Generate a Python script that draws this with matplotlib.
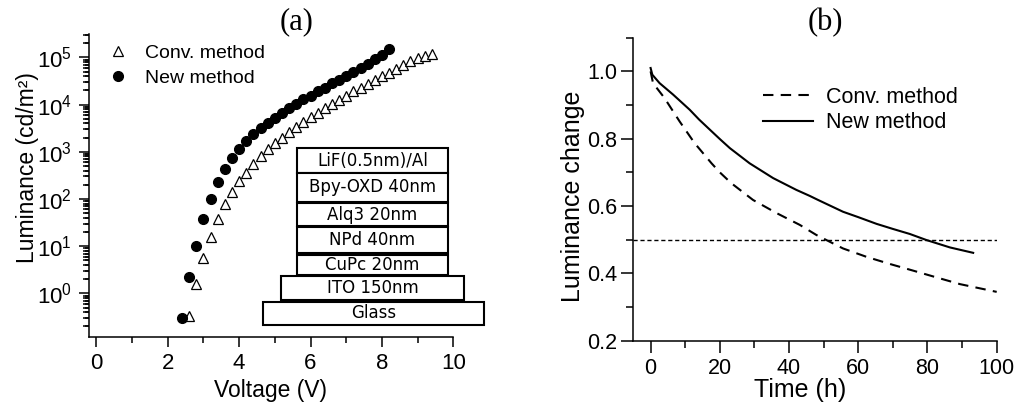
import numpy as np
import matplotlib
matplotlib.use("Agg")
import matplotlib.pyplot as plt
from matplotlib.patches import Rectangle
from matplotlib.ticker import (LogLocator, FixedLocator, MultipleLocator, NullFormatter,
                               FormatStrFormatter)

plt.rcParams['font.family'] = ['Liberation Sans', 'DejaVu Sans']
plt.rcParams['mathtext.fontset'] = 'custom'
plt.rcParams['mathtext.rm'] = 'Liberation Sans'

# ---------------- data ----------------
# (a) Luminance vs Voltage (log10 of luminance)
new_voltage = [2.4, 2.6, 2.8, 3.0, 3.2, 3.4, 3.6, 3.8, 4.0, 4.2, 4.4, 4.6, 4.8, 5.0, 5.2,
               5.4, 5.6, 5.8, 6.0, 6.2, 6.4, 6.6, 6.8, 7.0, 7.2, 7.4, 7.6, 7.8, 8.0, 8.2]
new_log_lum = [-0.53, 0.34, 1.01, 1.58, 2.01, 2.36, 2.63, 2.87, 3.07, 3.23, 3.37, 3.50, 3.62,
               3.72, 3.82, 3.92, 4.02, 4.11, 4.19, 4.28, 4.36, 4.45, 4.53, 4.61, 4.69, 4.77,
               4.87, 4.96, 5.06, 5.17]
conv_voltage = [2.6, 2.8, 3.0, 3.2, 3.4, 3.6, 3.8, 4.0, 4.2, 4.4, 4.6, 4.8, 5.0, 5.2, 5.4,
                5.6, 5.8, 6.0, 6.2, 6.4, 6.6, 6.8, 7.0, 7.2, 7.4, 7.6, 7.8, 8.0, 8.2, 8.4,
                8.6, 8.8, 9.0, 9.2, 9.4]
conv_log_lum = [-0.48, 0.20, 0.76, 1.20, 1.57, 1.89, 2.15, 2.39, 2.56, 2.75, 2.91, 3.05, 3.18,
                3.30, 3.42, 3.53, 3.63, 3.73, 3.83, 3.92, 4.01, 4.10, 4.19, 4.28, 4.36, 4.44,
                4.52, 4.60, 4.68, 4.76, 4.84, 4.92, 4.98, 5.03, 5.08]
new_lum = [10 ** v for v in new_log_lum]
conv_lum = [10 ** v for v in conv_log_lum]

# (b) Luminance change vs time
new_time = [0, 0.5, 2.6, 6.5, 11.3, 14.0, 17.1, 20.0, 22.9, 28.6, 35.4, 42.1, 46.0, 48.4,
            55.6, 60.0, 65.3, 70.0, 74.9, 79.7, 86.5, 93.2]
new_change = [1.01, 0.99, 0.965, 0.931, 0.886, 0.857, 0.827, 0.799, 0.772, 0.727, 0.683,
              0.648, 0.630, 0.618, 0.583, 0.567, 0.547, 0.532, 0.517, 0.499, 0.477, 0.461]
conv_time = [0, 0.7, 4.0, 8.4, 12.7, 17.6, 20.0, 23.3, 29.6, 36.4, 43.1, 47.9, 55.6, 62.4,
             69.1, 75.9, 82.6, 89.4, 100]
conv_change = [1.0, 0.965, 0.921, 0.851, 0.787, 0.727, 0.700, 0.668, 0.618, 0.579, 0.544,
               0.514, 0.474, 0.449, 0.428, 0.408, 0.388, 0.368, 0.345]
half_level = 0.5

series_labels = ["Conv. method", "New method"]
layer_labels = ["LiF(0.5nm)/Al", "Bpy-OXD 40nm", "Alq3 20nm", "NPd 40nm",
                "CuPc 20nm", "ITO 150nm", "Glass"]

# ---------------- figure ----------------
W, H = 1018, 405
fig = plt.figure(figsize=(W / 100, H / 100), dpi=100)

def px_axes(l, r, t, b):
    return fig.add_axes([l / W, 1 - b / H, (r - l) / W, (b - t) / H])

axA = px_axes(89.3, 453.3, 34.3, 337.3)
axB = px_axes(633.3, 996.7, 37.7, 340.7)
axA.set_yscale('log')

for ax in (axA, axB):
    ax.spines['top'].set_visible(False)
    ax.spines['right'].set_visible(False)
    for s in ('left', 'bottom'):
        ax.spines[s].set_linewidth(1.1)
    ax.set_facecolor('none')

# ----- panel (a)
axA.plot(conv_voltage, conv_lum, linestyle='none', marker='^', ms=7.5,
         mfc='white', mec='black', mew=0.9, label=series_labels[0], clip_on=False)
axA.plot(new_voltage, new_lum, linestyle='none', marker='o', ms=7,
         mfc='black', mec='black', label=series_labels[1], clip_on=False)
xlim_a = (-0.2, 10)
ylim_a = (10 ** -0.93, 10 ** 5.49)
axA.set_xlim(*xlim_a)
axA.set_ylim(*ylim_a)
axA.xaxis.set_major_locator(MultipleLocator(2))
axA.xaxis.set_minor_locator(MultipleLocator(1))
axA.yaxis.set_major_locator(LogLocator(base=10, numticks=100))
minor_log = [m * 10.0 ** d for d in range(-1, 6) for m in range(2, 10)]
axA.yaxis.set_minor_locator(FixedLocator(minor_log))
axA.yaxis.set_minor_formatter(NullFormatter())
axA.tick_params(which='major', direction='out', width=1.1, color='black',
                length=7.5, labelsize=16)
axA.tick_params(which='minor', direction='out', width=1.1, color='black', length=4.5)
axA.tick_params(axis='x', which='major', pad=4)
axA.tick_params(axis='y', which='major', pad=5)

# explicit short marks for the log minor ticks on the left spine
minor_in_range = [v for v in minor_log if ylim_a[0] <= v <= ylim_a[1]]
minor_len = 4.5 / (453.3 - 89.3)
axA.hlines(minor_in_range, -minor_len, 0, transform=axA.get_yaxis_transform(),
           colors='black', linewidth=1.1, clip_on=False)
axA.set_xlim(*xlim_a)
axA.set_ylim(*ylim_a)

axA.set_xlabel("Voltage (V)", fontsize=16.5, va='center')
axA.xaxis.set_label_coords(0.4986, -0.174)
axA.set_ylabel("Luminance (cd/m²)", fontsize=16.5, va='center')
axA.yaxis.set_label_coords(-0.171, 0.56)
legA = axA.legend(loc='upper left', bbox_to_anchor=(0.0514, 0.967), frameon=False,
                  fontsize=14, handlelength=1.0, handletextpad=0.9, labelspacing=0.38,
                  borderpad=0, borderaxespad=0, numpoints=1)

fig.text(296.7 / W, 1 - 22 / H, "(a)", family='Liberation Serif', fontsize=22,
         ha='center', va='center')

# device stack inset (pixel layout: x0, x1, y_top, y_bottom)
layer_boxes = [(296.7, 448.3, 148.3, 172.7), (296.7, 448.3, 172.7, 201.7),
               (296.7, 448.3, 203.3, 226.0), (296.7, 448.3, 227.3, 253.3),
               (296.7, 448.3, 255.0, 275.0), (281.0, 464.3, 276.0, 300.0),
               (263.3, 484.3, 301.7, 325.0)]
for (x0, x1, yt, yb), lab in zip(layer_boxes, layer_labels):
    fig.add_artist(Rectangle((x0 / W, 1 - yb / H), (x1 - x0) / W, (yb - yt) / H,
                             transform=fig.transFigure, facecolor='white',
                             edgecolor='black', linewidth=1.5, zorder=5))
    fig.text((x0 + x1) / 2 / W, 1 - (yt + yb) / 2 / H, lab, family='DejaVu Sans',
             fontsize=12, ha='center', va='center', zorder=6)

# ----- panel (b)
axB.plot(conv_time, conv_change, color='black', lw=1.5, dashes=(5, 3.5),
         label=series_labels[0])
axB.plot(new_time, new_change, color='black', lw=1.5, label=series_labels[1])
axB.axhline(half_level, color='black', lw=1.0, dashes=(3, 2))
axB.set_xlim(-5, 100)
axB.set_ylim(0.2, 1.1)
axB.xaxis.set_major_locator(MultipleLocator(20))
axB.xaxis.set_minor_locator(MultipleLocator(10))
axB.yaxis.set_major_locator(MultipleLocator(0.2))
axB.yaxis.set_minor_locator(MultipleLocator(0.1))
axB.yaxis.set_major_formatter(FormatStrFormatter('%.1f'))
axB.tick_params(which='major', direction='out', width=1.1, color='black',
                length=8.5, labelsize=15.5)
axB.tick_params(which='minor', direction='out', width=1.1, color='black', length=5)
axB.tick_params(axis='x', which='major', pad=4)
axB.tick_params(axis='y', which='major', pad=3)
axB.set_xlabel("Time (h)", fontsize=18, va='center')
axB.xaxis.set_label_coords(0.4587, -0.163)
axB.set_ylabel("Luminance change", fontsize=18, va='center')
axB.yaxis.set_label_coords(-0.167, 0.478)
legB = axB.legend(loc='upper left', bbox_to_anchor=(0.3577, 0.838), frameon=False,
                  fontsize=15.5, handlelength=2.33, handletextpad=0.56,
                  labelspacing=0.2, borderpad=0, borderaxespad=0)

fig.text(825 / W, 1 - 23 / H, "(b)", family='Liberation Serif', fontsize=22,
         ha='center', va='center')

fig.savefig("out.png", dpi=100)
